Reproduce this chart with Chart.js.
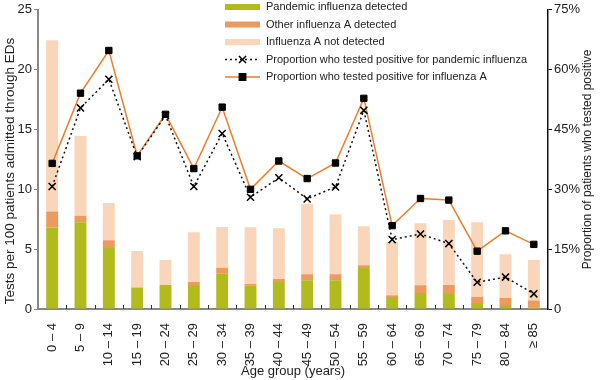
<!DOCTYPE html>
<html>
<head>
<meta charset="utf-8">
<script src="https://cdn.jsdelivr.net/npm/chart.js@4"></script>
<style>
  body { margin: 0; background: #fff; }
</style>
</head>
<body>
<canvas id="chart" width="600" height="380"></canvas>
<script>
var ageGroups = ['0 – 4', '5 – 9', '10 – 14', '15 – 19', '20 – 24', '25 – 29', '30 – 34', '35 – 39', '40 – 44',
    '45 – 49', '50 – 54', '55 – 59', '60 – 64', '65 – 69', '70 – 74', '75 – 79', '80 – 84', '≥ 85'];

// tests per 100 ED admissions (stacked)
var pandemicDetected = [6.8, 7.25, 5.1, 1.8, 2.0, 2.0, 2.95, 1.95, 2.25, 2.4, 2.4, 3.43, 1.0, 1.33, 1.25, 0.5, 0.33, 0.1];
var otherADetected = [1.35, 0.55, 0.65, 0, 0, 0.25, 0.5, 0.13, 0.25, 0.5, 0.5, 0.22, 0.15, 0.66, 0.75, 0.5, 0.58, 0.6];
var notDetected = [14.3, 6.65, 3.1, 3.05, 2.1, 4.17, 3.4, 4.76, 4.25, 5.9, 5.0, 3.27, 4.45, 5.18, 5.43, 6.25, 3.66, 3.4];

// proportion positive (%)
var pctPandemic = [30.7, 50.4, 57.6, 38.2, 48.5, 30.7, 44.0, 28.0, 32.9, 27.6, 30.6, 49.8, 17.4, 18.8, 16.4, 6.7, 8.0, 3.8];
var pctInfluenzaA = [36.5, 54.1, 64.8, 38.4, 48.8, 35.2, 50.6, 30.0, 37.1, 32.7, 36.6, 52.8, 20.9, 27.7, 27.3, 14.5, 19.6, 16.2];

var leftTicks = [0, 5, 10, 15, 20, 25];
var rightTicks = [0, 15, 30, 45, 60, 75];

var green = '#b1bb1e';
var orange = '#ec9a5e';
var peach = '#f9d6b9';
var lineOrange = '#ef7d2c';

Chart.defaults.font.family = "'Liberation Sans', Arial, sans-serif";
Chart.defaults.font.size = 12;
Chart.defaults.color = '#222';

// legend drawn as a stacked list in the top of the plot
var legendList = {
    id: 'legendList',
    afterDraw: function (chart) {
        var ctx = chart.ctx;
        var x0 = 225, x1 = 260, tx = 266, y = 7, step = 17.5;
        ctx.save();
        ctx.font = "11px 'Liberation Sans', Arial, sans-serif";
        ctx.textBaseline = 'middle';
        chart.data.datasets.forEach(function (ds) {
            if (ds.type === 'line') {
                ctx.strokeStyle = ds.borderColor;
                ctx.lineWidth = 1.5;
                ctx.setLineDash(ds.borderDash || []);
                ctx.beginPath();
                ctx.moveTo(x0, y);
                ctx.lineTo(x1, y);
                ctx.stroke();
                ctx.setLineDash([]);
                ctx.fillStyle = '#000';
                ctx.strokeStyle = '#000';
                Chart.helpers.drawPoint(ctx, {
                    pointStyle: ds.pointStyle, radius: ds.pointRadius, borderWidth: 1.5
                }, (x0 + x1) / 2, y);
            } else {
                ctx.fillStyle = ds.backgroundColor;
                ctx.fillRect(x0, y - 3, x1 - x0, 6);
            }
            ctx.fillStyle = '#222';
            ctx.fillText(ds.label, tx, y);
            y += step;
        });
        ctx.restore();
    }
};

function drawUpText(ctx, text, x, y, size) {
    ctx.save();
    ctx.translate(x, y);
    ctx.rotate(-Math.PI / 2);
    ctx.font = size + "px 'Liberation Sans', Arial, sans-serif";
    ctx.fillStyle = '#222';
    ctx.textAlign = 'center';
    ctx.textBaseline = 'middle';
    ctx.fillText(text, 0, 0);
    ctx.restore();
}

// inward ticks between categories, and both y titles reading upward
var axisExtras = {
    id: 'axisExtras',
    afterDraw: function (chart) {
        var ctx = chart.ctx;
        var area = chart.chartArea;
        var n = ageGroups.length;
        var w = (area.right - area.left) / n;
        ctx.save();
        ctx.strokeStyle = '#333';
        ctx.lineWidth = 1;
        for (var i = 1; i < n; i++) {
            var x = Math.round(area.left + i * w) + 0.5;
            ctx.beginPath();
            ctx.moveTo(x, area.bottom);
            ctx.lineTo(x, area.bottom - 4);
            ctx.stroke();
        }
        ctx.restore();
        drawUpText(ctx, 'Tests per 100 patients admitted through EDs', 10, 171, 13.5);
        drawUpText(ctx, 'Proportion of patients who tested positive', 588, (area.top + area.bottom) / 2, 12);
    }
};

var ctx1 = document.getElementById('chart').getContext('2d');
window.myChart = new Chart(ctx1, {
    type: 'bar',
    data: {
        labels: ageGroups,
        datasets: [{
            label: 'Pandemic influenza detected',
            data: pandemicDetected,
            backgroundColor: green,
            yAxisID: 'y',
            order: 1
        }, {
            label: 'Other influenza A detected',
            data: otherADetected,
            backgroundColor: orange,
            yAxisID: 'y',
            order: 1
        }, {
            label: 'Influenza A not detected',
            data: notDetected,
            backgroundColor: peach,
            yAxisID: 'y',
            order: 1
        }, {
            type: 'line',
            label: 'Proportion who tested positive for pandemic influenza',
            data: pctPandemic,
            yAxisID: 'y1',
            borderColor: '#111',
            borderWidth: 1.5,
            borderDash: [2, 3],
            pointStyle: 'crossRot',
            pointRadius: 5,
            pointBorderColor: '#000',
            pointBorderWidth: 1.5,
            fill: false,
            order: 0
        }, {
            type: 'line',
            label: 'Proportion who tested positive for influenza A',
            data: pctInfluenzaA,
            yAxisID: 'y1',
            borderColor: lineOrange,
            borderWidth: 1.5,
            pointStyle: 'rect',
            pointRadius: 4.5,
            pointBackgroundColor: '#000',
            pointBorderColor: '#000',
            pointBorderWidth: 1,
            fill: false,
            order: 0
        }]
    },
    options: {
        responsive: false,
        animation: false,
        layout: { padding: { top: 8 } },
        plugins: {
            legend: { display: false },
            tooltip: { enabled: false }
        },
        datasets: {
            bar: { barPercentage: 0.42, categoryPercentage: 1 }
        },
        scales: {
            x: {
                stacked: true,
                grid: { display: false },
                border: { color: '#888', width: 2 },
                ticks: { minRotation: 90, maxRotation: 90, padding: 6, color: '#222', autoSkip: false, font: { size: 13 } },
                title: { display: true, text: 'Age group (years)', padding: { top: 2, bottom: 1 }, font: { size: 13 } },
                afterFit: function (scale) { scale.height = 71; }
            },
            y: {
                position: 'left',
                stacked: true,
                min: 0,
                max: 25,
                afterBuildTicks: function (scale) {
                    scale.ticks = leftTicks.map(function (v) { return { value: v }; });
                },
                grid: { drawOnChartArea: false, tickLength: 4, color: '#888' },
                border: { color: '#888', width: 2 },
                ticks: { padding: 2, font: { size: 13 } },
                afterFit: function (scale) { scale.width = 38; }
            },
            y1: {
                position: 'right',
                min: 0,
                max: 75,
                afterBuildTicks: function (scale) {
                    scale.ticks = rightTicks.map(function (v) { return { value: v }; });
                },
                grid: { drawOnChartArea: false, tickLength: 4, color: '#111' },
                border: { color: '#111', width: 1.5 },
                ticks: {
                    padding: 2,
                    font: { size: 13 },
                    callback: function (v) { return v === 0 ? '0' : v + '%'; }
                },
                afterFit: function (scale) { scale.width = 52; }
            }
        }
    },
    plugins: [legendList, axisExtras]
});
</script>
</body>
</html>
